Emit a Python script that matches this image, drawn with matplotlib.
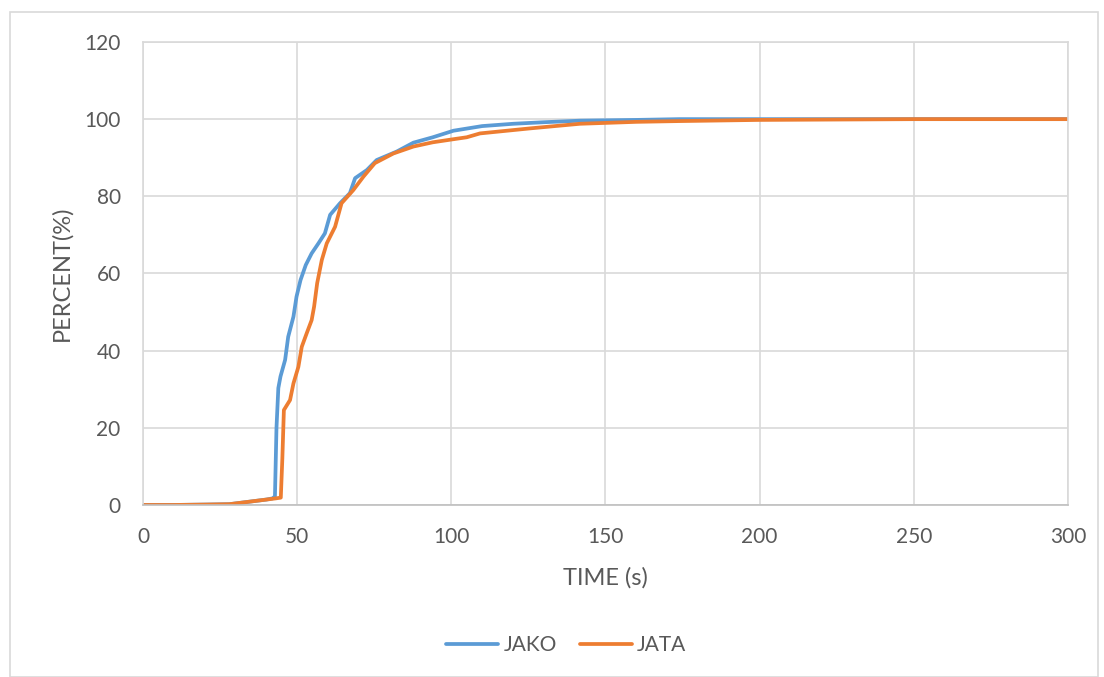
import numpy as np
import matplotlib.pyplot as plt
from matplotlib.patches import Rectangle

# time (s) and cumulative percent
jako_t = [0, 10, 20, 28, 32, 36, 40, 42, 42.8, 43.3, 43.9, 44.6, 46.1, 47.1, 48.8, 49.8, 51.1, 52.8,
          54.7, 56.9, 59, 60.7, 63.9, 67.1, 68.8, 72.6, 75.8, 82.3, 87.7, 94, 100.7, 110, 120.1,
          130, 141.7, 160, 174, 200, 250, 300]
jako_p = [0, 0, 0.1, 0.2, 0.6, 1.0, 1.4, 1.7, 2.2, 20, 30.3, 33.3, 37.6, 43.6, 48.8, 54, 58.3, 62.2,
          65.2, 67.8, 70.4, 75.2, 78.2, 80.8, 84.7, 86.8, 89.4, 91.6, 93.9, 95.3, 97, 98.2, 98.8,
          99.2, 99.6, 99.8, 100, 100, 100, 100]

jata_t = [0, 10, 20, 28, 32, 36, 40, 43, 44.7, 45.2, 45.7, 47.7, 48.8, 50.4, 51.5, 53.1, 54.7,
          55.5, 56.5, 58, 59.6, 62.3, 64.4, 68.2, 71.5, 75.2, 81.2, 87.7, 94, 100.7, 105, 109.3,
          125.5, 141.7, 160, 174, 200, 250, 300]
jata_p = [0, 0, 0.1, 0.2, 0.6, 1.0, 1.4, 1.7, 1.9, 12, 24.6, 27.2, 31.5, 35.8, 41, 44.5, 47.9,
          51.4, 57.5, 63.5, 67.8, 72.1, 78.2, 81.6, 85.1, 88.6, 91.1, 92.9, 94, 94.8, 95.3, 96.3,
          97.6, 98.8, 99.3, 99.5, 99.8, 100, 100]

grid_col = "#d9d9d9"
text_col = "#595959"
plt.rcParams['font.family'] = ['Lato', 'DejaVu Sans']

fig = plt.figure(figsize=(11.04, 6.77), dpi=100)
ax = fig.add_axes([0.1295, 0.2541, 0.9674 - 0.1295, 0.938 - 0.2541])

ax.plot(jako_t, jako_p, color="#5B9BD5", lw=2.7, label="JAKO", solid_capstyle="round")
ax.plot(jata_t, jata_p, color="#ED7D31", lw=2.7, label="JATA", solid_capstyle="round")

ax.set_xlim(0, 300)
ax.set_ylim(0, 120)
ax.set_xticks(np.arange(0, 301, 50))
ax.set_yticks(np.arange(0, 121, 20))
ax.grid(True, color=grid_col, lw=1.2)
ax.set_axisbelow(True)
for s in ax.spines.values():
    s.set_color(grid_col)
    s.set_linewidth(1.2)
ax.spines["bottom"].set_color("#bfbfbf")
ax.tick_params(length=0, labelsize=15, colors=text_col)
ax.tick_params(axis="x", pad=16)
ax.tick_params(axis="y", pad=16)
ax.set_xlabel("TIME (s)", fontsize=17, color=text_col, labelpad=14)
ax.set_ylabel("PERCENT(%)", fontsize=17, color=text_col, labelpad=8.5)

leg = fig.legend(loc="center", ncol=2, frameon=False,
                 fontsize=15, handlelength=2.5, columnspacing=1.1, handletextpad=0.25,
                 labelcolor=text_col)
leg.set_bbox_to_anchor((0.513, 1 - 645 / 677))

fig.patches.append(Rectangle((10 / 1104, 0), 1088 / 1104, 1 - 12 / 677, transform=fig.transFigure,
                             fill=False, edgecolor=grid_col, lw=1.2))

fig.savefig("out.png", dpi=100)
